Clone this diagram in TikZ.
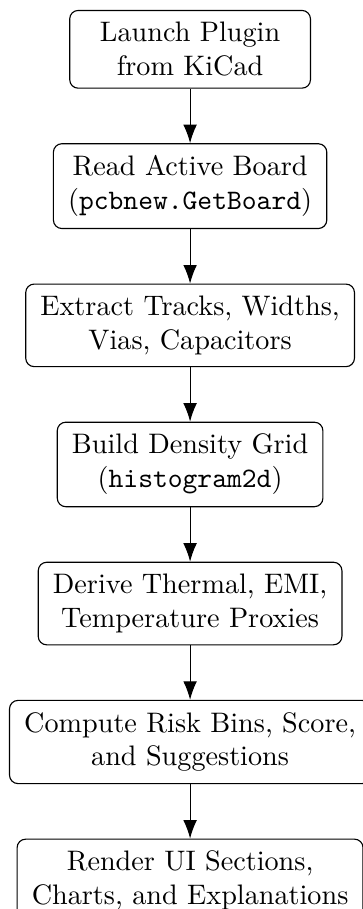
\documentclass[tikz,border=0pt]{standalone}
\usepackage{tikz}
\usetikzlibrary{
	arrows.meta,
	positioning
}

\begin{document}
\begin{tikzpicture}[
			node distance=19.3pt,
			etapa/.style={
					draw,
					rounded corners=3pt,
					minimum width=3cm,
					inner xsep=5.2pt,
					inner ysep=4.2pt,
					align=center
				},
			seta/.style={-{Latex[length=2.3mm,width=1.7mm]}}
		]
		\useasboundingbox (-67.4pt,3.5pt) rectangle (61pt,-318.8pt);

		\node[etapa, anchor=north] (e1) at (0,0) {Launch Plugin\\ from KiCad};
		\node[etapa, below=of e1] (e2) {Read Active Board\\ (\texttt{pcbnew.GetBoard})};
		\node[etapa, below=of e2] (e3) {Extract Tracks, Widths,\\ Vias, Capacitors};
		\node[etapa, below=of e3] (e4) {Build Density Grid\\ (\texttt{histogram2d})};
		\node[etapa, below=of e4] (e5) {Derive Thermal, EMI,\\ Temperature Proxies};
		\node[etapa, below=of e5] (e6) {Compute Risk Bins, Score,\\ and Suggestions};
		\node[etapa, below=of e6] (e7) {Render UI Sections,\\ Charts, and Explanations};

		\foreach \a/\b in {e1/e2, e2/e3, e3/e4, e4/e5, e5/e6, e6/e7}
			\draw[seta] (\a) -- (\b);
	\end{tikzpicture}
\end{document}
